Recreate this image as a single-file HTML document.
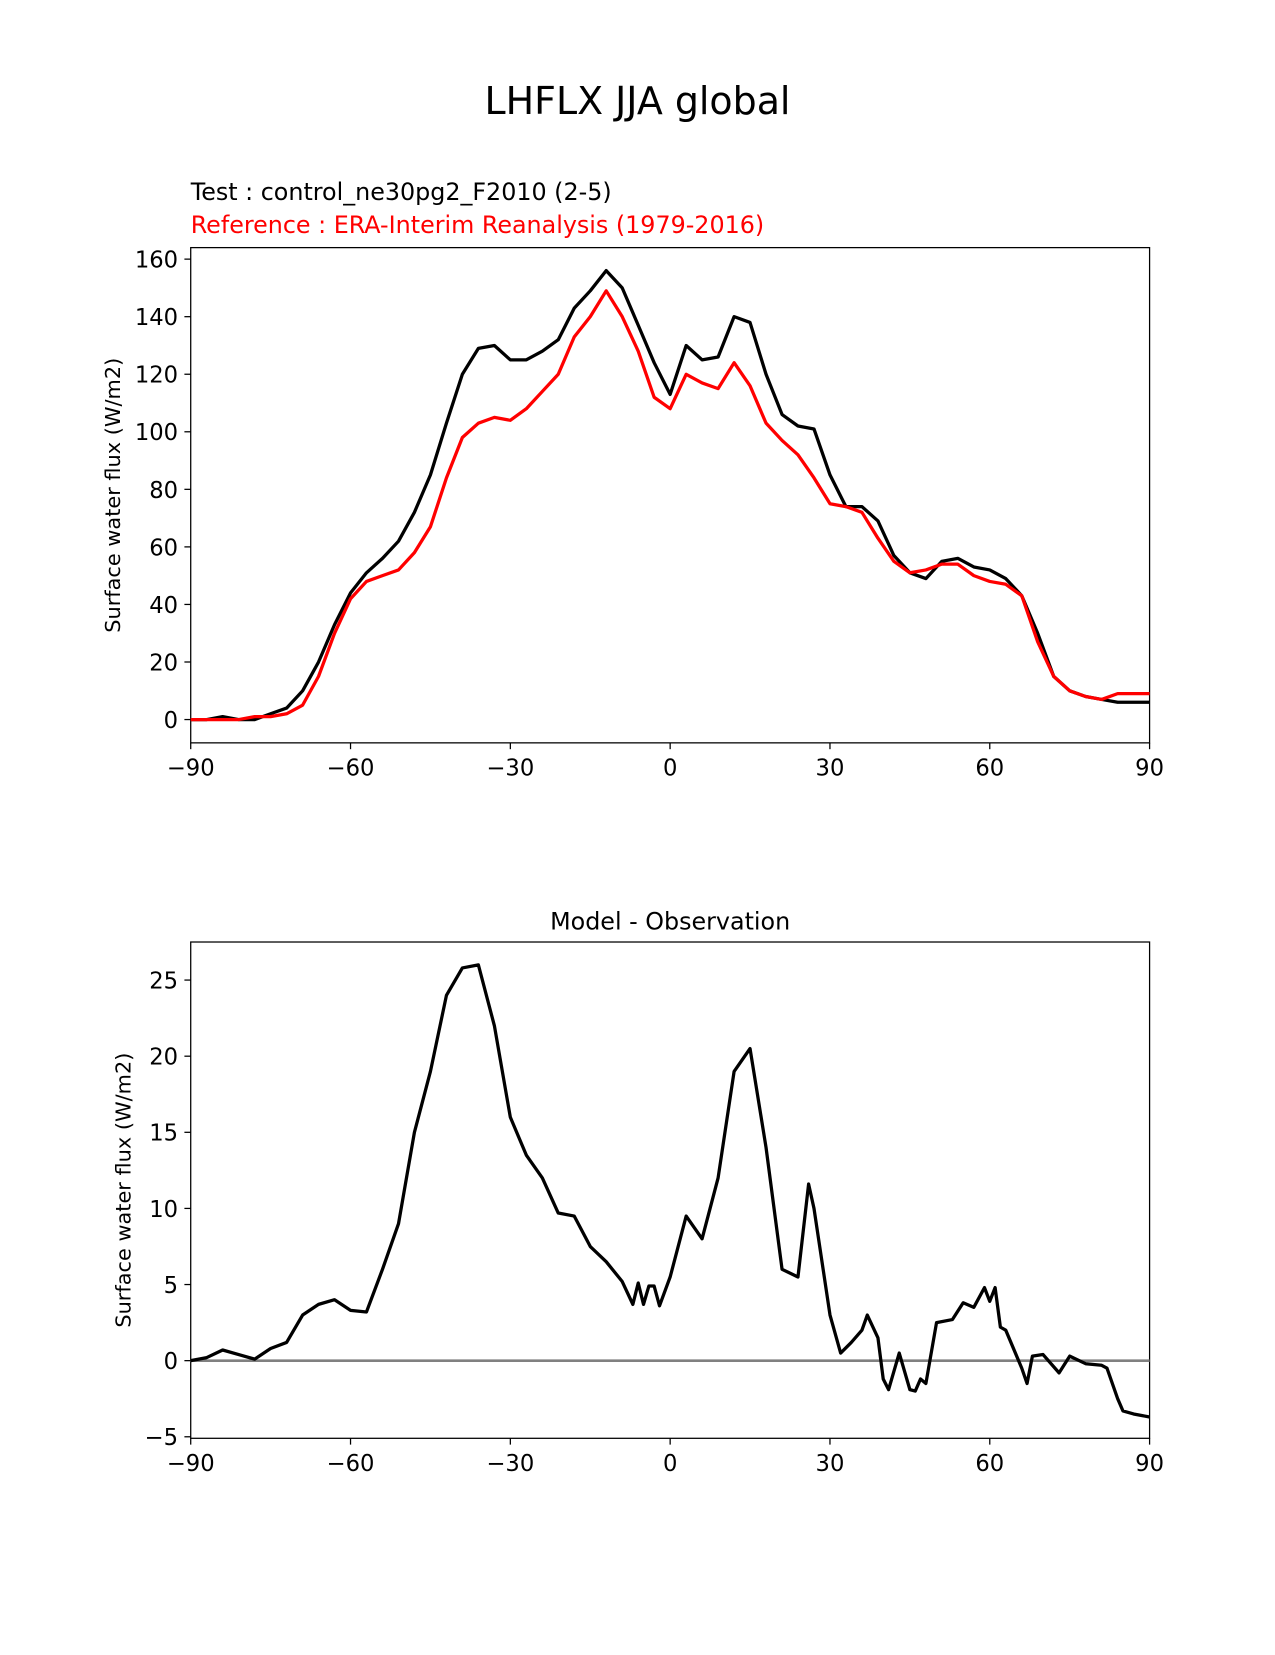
<!DOCTYPE html>
<html><head><meta charset="utf-8"><style>
body{margin:0;background:#fff;width:1275px;height:1650px;overflow:hidden}
svg{font-family:"DejaVu Sans","Liberation Sans",sans-serif}
</style></head><body>
<svg id="fig" width="1275" height="1650">
<g transform="scale(1.0537)">
<text x="605" y="108" font-size="36" text-anchor="middle">LHFLX JJA global</text>
<text x="181" y="190" font-size="22.6">Test : control_ne30pg2_F2010 (2-5)</text>
<text x="181" y="221" font-size="22.6" fill="#ff0000">Reference : ERA-Interim Reanalysis (1979-2016)</text>
<text x="636" y="882" font-size="22.6" text-anchor="middle">Model - Observation</text>
<g id="topg"></g>
<g id="botg"></g>
</g>
</svg>
<script>
const lats=[-90,-87,-84,-81,-78,-75,-72,-69,-66,-63,-60,-57,-54,-51,-48,-45,-42,-39,-36,-33,-30,-27,-24,-21,-18,-15,-12,-9,-6,-3,0,3,6,9,12,15,18,21,24,27,30,33,36,39,42,45,48,51,54,57,60,63,66,69,72,75,78,81,84,87,90];
const testVals=[0,0,1,0,0,2,4,10,20,33,44,51,56,62,72,85,103,120,129,130,125,125,128,132,143,149,156,150,137,124,113,130,125,126,140,138,120,106,102,101,85,74,74,69,57,51,49,55,56,53,52,49,43,30,15,10,8,7,6,6,6];
const refVals=[0,0,0,0,1,1,2,5,15,30,42,48,50,52,58,67,84,98,103,105,104,108,114,120,133,140,149,140,128,112,108,120,117,115,124,116,103,97,92,84,75,74,72,63,55,51,52,54,54,50,48,47,43,27,15,10,8,7,9,9,9];
const diffLats=[-90,-87,-84,-81,-78,-75,-72,-69,-66,-63,-60,-57,-54,-51,-48,-45,-42,-39,-36,-33,-30,-27,-24,-21,-18,-15,-12,-9,-7,-6,-5,-4,-3,-2,0,3,6,9,12,15,18,21,24,26,27,30,32,34,36,37,39,40,41,43,45,46,47,48,50,53,55,57,59,60,61,62,63,66,67,68,70,73,75,78,81,82,84,85,87,90];
const diffVals=[0,0.2,0.7,0.4,0.1,0.8,1.2,3,3.7,4,3.3,3.2,6,9,15,19,24,25.8,26,22,16,13.5,12,9.7,9.5,7.5,6.5,5.2,3.7,5.1,3.7,4.9,4.9,3.6,5.5,9.5,8,12,19,20.5,14,6,5.5,11.6,10,3,0.5,1.2,2,3,1.5,-1.2,-1.9,0.5,-1.9,-2,-1.2,-1.5,2.5,2.7,3.8,3.5,4.8,3.9,4.8,2.2,2,-0.5,-1.5,0.3,0.4,-0.8,0.3,-0.2,-0.3,-0.5,-2.5,-3.3,-3.5,-3.7];
const xTicks=[-90,-60,-30,0,30,60,90];
const topYTicks=[0,20,40,60,80,100,120,140,160];
const botYTicks=[-5,0,5,10,15,20,25];
const NS='http://www.w3.org/2000/svg';
function mk(p,t,a){const e=document.createElementNS(NS,t);for(const k in a)e.setAttribute(k,a[k]);p.appendChild(e);return e;}
const X=l=>181+(l+90)*910/180;
function axes(g,y0,y1,yv0,yv1,yT,prefix,ylab){
  const Y=v=>y1+(v-yv0)*(y0-y1)/(yv1-yv0);
  const fr=mk(g,'rect',{x:181,y:y0,width:910,height:y1-y0,fill:'none',stroke:'#000','stroke-width':1.2});
  
  
  xTicks.forEach(t=>{
    mk(g,'line',{x1:X(t),x2:X(t),y1:y1,y2:y1+6,stroke:'#000','stroke-width':1.2});
    const tx=mk(g,'text',{x:X(t),y:y1+31,'font-size':21.5,'text-anchor':'middle'});
    tx.textContent=t<0?'\u2212'+(-t):String(t);
    
    
  });
  yT.forEach(t=>{
    mk(g,'line',{x1:175,x2:181,y1:Y(t),y2:Y(t),stroke:'#000','stroke-width':1.2});
    const tx=mk(g,'text',{x:169,y:Y(t)+8,'font-size':21.5,'text-anchor':'end'});
    tx.textContent=t<0?'\u2212'+(-t):String(t);
    
    
  });
  const yl=mk(g,'text',{x:0,y:0,'font-size':19.8,'text-anchor':'middle',transform:`translate(${prefix==='top'?114:124},${(y0+y1)/2}) rotate(-90)`});
  yl.textContent=ylab;
  
  
  return Y;
}
function line(g,xs,vs,Y,col,name){
  const d=xs.map((l,i)=>(i?'L':'M')+X(l).toFixed(1)+','+Y(vs[i]).toFixed(1)).join('');
  const p=mk(g,'path',{d:d,fill:'none',stroke:col,'stroke-width':3.1,'stroke-linejoin':'round'});
  
  
}
const topG=document.getElementById('topg');
const Yt=axes(topG,235,705,-8.1,164,topYTicks,'top','Surface water flux (W/m2)');
line(topG,lats,testVals,Yt,'#000','test-line');
line(topG,lats,refVals,Yt,'#ff0000','reference-line');
const botG=document.getElementById('botg');
const Yb=axes(botG,894,1365,-5.1,27.5,botYTicks,'bot','Surface water flux (W/m2)');
const z=mk(botG,'line',{x1:181,x2:1091,y1:Yb(0),y2:Yb(0),stroke:'#808080','stroke-width':2.5});


line(botG,diffLats,diffVals,Yb,'#000','difference-line');
</script>
</body></html>
